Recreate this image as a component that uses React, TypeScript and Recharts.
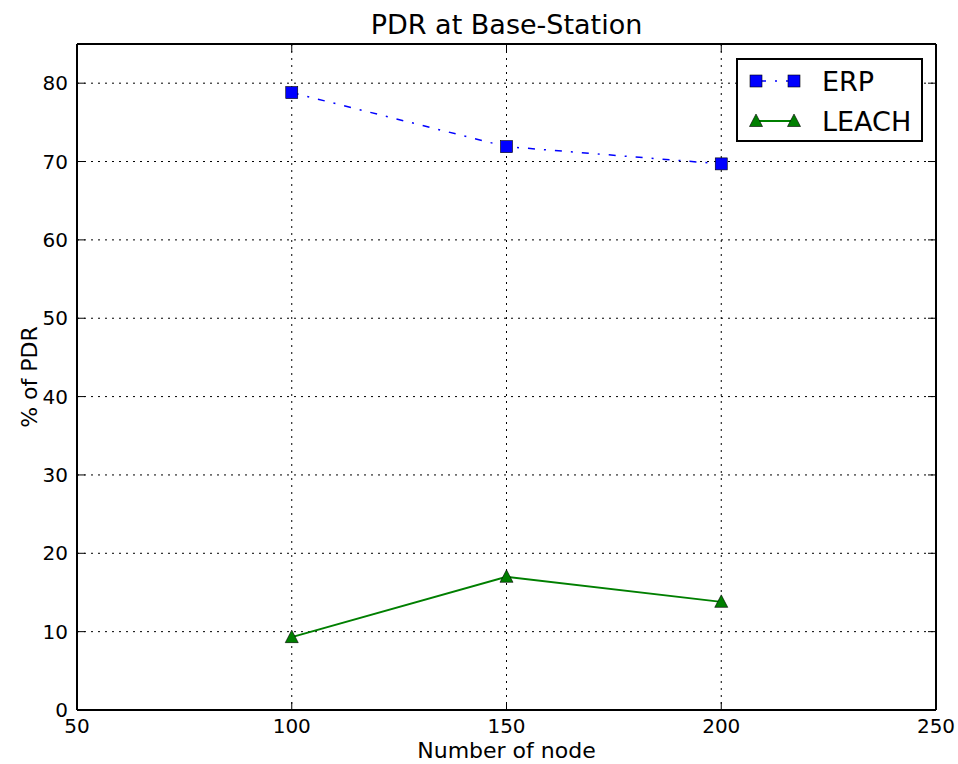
import React from 'react';
import { CartesianGrid, Label, Legend, Line, LineChart, XAxis, YAxis } from "recharts";

const nodes = [100, 150, 200];
const erp = [78.8, 71.9, 69.7];
const leach = [9.3, 17.0, 13.8];
const xTicks = [50, 100, 150, 200, 250];
const yTicks = [0, 10, 20, 30, 40, 50, 60, 70, 80];

const data = nodes.map((n, i) => ({ nodes: n, ERP: erp[i], LEACH: leach[i] }));

const FONT = "'DejaVu Sans', sans-serif";

const Square = (props: any) => {
  const { cx, cy } = props;
  if (cx == null || cy == null) return null;
  return <rect x={cx - 6} y={cy - 6} width={12} height={12} fill="#0000ff" stroke="#000" strokeWidth={0.6} />;
};

const Triangle = (props: any) => {
  const { cx, cy } = props;
  if (cx == null || cy == null) return null;
  return <polygon points={`${cx},${cy - 7} ${cx - 6.5},${cy + 5.5} ${cx + 6.5},${cy + 5.5}`} fill="#007f00" stroke="#000" strokeWidth={0.6} />;
};

const BottomTick = (props: any) => {
  const { x, y, payload } = props;
  return (
    <g>
      <line x1={x} y1={y} x2={x} y2={y - 8} stroke="#000" strokeWidth={1} />
      <text x={x} y={y + 23} textAnchor="middle" fontSize={20} fontFamily={FONT} fill="#000">{payload.value}</text>
    </g>
  );
};

const TopTick = (props: any) => {
  const { x, y } = props;
  return <line x1={x} y1={y} x2={x} y2={y + 8} stroke="#000" strokeWidth={1} />;
};

const LeftTick = (props: any) => {
  const { x, y, payload } = props;
  return (
    <g>
      <line x1={x} y1={y} x2={x + 8} y2={y} stroke="#000" strokeWidth={1} />
      <text x={x - 9} y={y + 7} textAnchor="end" fontSize={20} fontFamily={FONT} fill="#000">{payload.value}</text>
    </g>
  );
};

const RightTick = (props: any) => {
  const { x, y } = props;
  return <line x1={x} y1={y} x2={x - 8} y2={y} stroke="#000" strokeWidth={1} />;
};

const LegendBox = () => (
  <svg width={187} height={84} style={{ display: 'block' }}>
    <rect x={1} y={1} width={185} height={82} fill="#fff" stroke="#000" strokeWidth={2} />
    <line x1={20} y1={23} x2={58} y2={23} stroke="#0000ff" strokeWidth={1.5} strokeDasharray="7 9 2 9" strokeDashoffset={-3} />
    <Square cx={20} cy={23} />
    <Square cx={58} cy={23} />
    <text x={86} y={33} fontSize={27} fontFamily={FONT} fill="#000">ERP</text>
    <line x1={20} y1={63} x2={58} y2={63} stroke="#007f00" strokeWidth={2} />
    <Triangle cx={20} cy={63} />
    <Triangle cx={58} cy={63} />
    <text x={86} y={73} fontSize={27} fontFamily={FONT} fill="#000">LEACH</text>
  </svg>
);

export default function App() {
  return (
    <div style={{ position: 'absolute', left: 0, top: 0, width: 958, height: 764, background: '#fff' }}>
      <LineChart width={958} height={764} data={data} margin={{ top: 43, right: 21, bottom: 0, left: 0 }}>
        <CartesianGrid stroke="#000" strokeWidth={1} strokeDasharray="2 5" horizontalValues={yTicks} verticalValues={xTicks} />
        <XAxis
          dataKey="nodes"
          type="number"
          domain={[50, 250]}
          ticks={xTicks}
          height={54}
          tickSize={0}
          tickMargin={0}
          tick={<BottomTick />}
          axisLine={{ stroke: '#000', strokeWidth: 2 }}
          tickLine={false}
        >
          <Label
            content={(p: any) => (
              <text x={p.viewBox.x + p.viewBox.width / 2} y={p.viewBox.y + 48} textAnchor="middle" fontSize={22} fontFamily={FONT} fill="#000">
                Number of node
              </text>
            )}
          />
        </XAxis>
        <XAxis
          xAxisId="top"
          dataKey="nodes"
          orientation="top"
          type="number"
          domain={[50, 250]}
          ticks={xTicks}
          height={1}
          tickSize={0}
          tickMargin={0}
          tick={<TopTick />}
          axisLine={{ stroke: '#000', strokeWidth: 2 }}
          tickLine={false}
        >
          <Label
            content={(p: any) => (
              <text x={p.viewBox.x + p.viewBox.width / 2} y={p.viewBox.y + p.viewBox.height - 10} textAnchor="middle" fontSize={27} fontFamily={FONT} fill="#000">
                PDR at Base-Station
              </text>
            )}
          />
        </XAxis>
        <YAxis
          type="number"
          domain={[0, 85]}
          ticks={yTicks}
          width={77}
          tickSize={0}
          tickMargin={0}
          tick={<LeftTick />}
          axisLine={{ stroke: '#000', strokeWidth: 2 }}
          tickLine={false}
        >
          <Label
            content={(p: any) => {
              const cy = p.viewBox.y + p.viewBox.height / 2;
              return (
                <text x={37} y={cy} transform={`rotate(-90, 37, ${cy})`} textAnchor="middle" fontSize={22} fontFamily={FONT} fill="#000">
                  % of PDR
                </text>
              );
            }}
          />
        </YAxis>
        <YAxis
          yAxisId="right"
          orientation="right"
          type="number"
          domain={[0, 85]}
          ticks={yTicks}
          width={1}
          tickSize={0}
          tickMargin={0}
          tick={<RightTick />}
          axisLine={{ stroke: '#000', strokeWidth: 2 }}
          tickLine={false}
        />
        <Legend
          layout="horizontal"
          verticalAlign="middle"
          align="center"
          content={() => <LegendBox />}
          wrapperStyle={{ position: 'absolute', left: 736, top: 58, width: 187, height: 84 }}
        />
        <Line
          xAxisId="top"
          yAxisId="right"
          dataKey="ERP"
          stroke="#0000ff"
          strokeWidth={1.5}
          strokeDasharray="7 9 2 9"
          dot={<Square />}
          activeDot={false}
          isAnimationActive={false}
        />
        <Line
          dataKey="LEACH"
          stroke="#007f00"
          strokeWidth={2}
          dot={<Triangle />}
          activeDot={false}
          isAnimationActive={false}
        />
      </LineChart>
    </div>
  );
}
